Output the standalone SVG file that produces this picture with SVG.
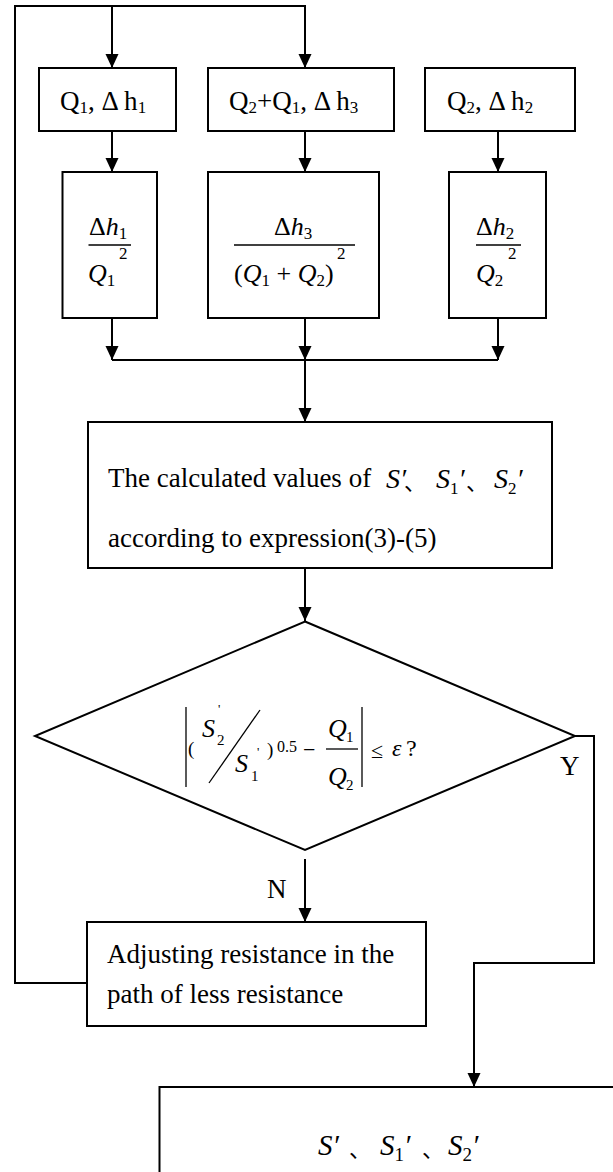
<svg xmlns="http://www.w3.org/2000/svg" width="613" height="1172" viewBox="0 0 613 1172">
<style>
.b{fill:#fff;stroke:#000;stroke-width:2}
.c{fill:none;stroke:#000;stroke-width:2}
.f{fill:none;stroke:#000;stroke-width:1.3}
.t{font-family:"Liberation Serif","Times New Roman","Noto Sans CJK SC",serif;font-size:27px;fill:#000}
.m{font-family:"Liberation Serif","Times New Roman",serif;font-size:26px;fill:#000}
.i{font-style:italic}
.s{font-size:17px}
.cjk{font-family:"Noto Sans CJK SC",sans-serif;font-style:normal}
</style>
<defs>
<marker id="ah" markerUnits="userSpaceOnUse" markerWidth="14" markerHeight="14" refX="14" refY="6.5" orient="auto">
<path d="M0,0 L14,6.5 L0,13 z" fill="#000"/>
</marker>
</defs>
<rect width="613" height="1172" fill="#fff"/>

<g id="connectors">
<path class="c" d="M87,983 H15 V6 H305 V68" marker-end="url(#ah)"/>
<path class="c" d="M112,6 V68" marker-end="url(#ah)"/>
<path class="c" d="M112,131 V172" marker-end="url(#ah)"/>
<path class="c" d="M305,131 V172" marker-end="url(#ah)"/>
<path class="c" d="M498,131 V172" marker-end="url(#ah)"/>
<path class="c" d="M112,318 V360" marker-end="url(#ah)"/>
<path class="c" d="M305,318 V360" marker-end="url(#ah)"/>
<path class="c" d="M498,318 V360" marker-end="url(#ah)"/>
<path class="c" d="M112,360 H498"/>
<path class="c" d="M305,360 V422" marker-end="url(#ah)"/>
<path class="c" d="M305,568 V621" marker-end="url(#ah)"/>
<path class="c" d="M305,859 V922" marker-end="url(#ah)"/>
<path class="c" d="M575,736 H594 V963 H474 V1087" marker-end="url(#ah)"/>
<text class="t" x="267" y="898">N</text>
<text class="t" x="560" y="775">Y</text>
</g>

<g id="n1">
<rect class="b" x="39" y="68" width="137" height="63"/>
<text class="t" x="60" y="110">Q<tspan class="s" dy="3">1</tspan><tspan dy="-3">, Δ h</tspan><tspan class="s" dy="3">1</tspan></text>
</g>
<g id="n2">
<rect class="b" x="208" y="68" width="186" height="63"/>
<text class="t" x="229" y="110">Q<tspan class="s" dy="3">2</tspan><tspan dy="-3">+Q</tspan><tspan class="s" dy="3">1</tspan><tspan dy="-3">, Δ h</tspan><tspan class="s" dy="3">3</tspan></text>
</g>
<g id="n3">
<rect class="b" x="425" y="68" width="150" height="63"/>
<text class="t" x="447" y="110">Q<tspan class="s" dy="3">2</tspan><tspan dy="-3">, Δ h</tspan><tspan class="s" dy="3">2</tspan></text>
</g>

<g id="n4">
<rect class="b" x="62.5" y="172" width="94.5" height="146"/>
<text class="m" x="89" y="235">Δ<tspan class="i">h</tspan><tspan class="s" dy="4">1</tspan></text>
<line class="f" x1="88.5" y1="245" x2="131" y2="245"/>
<text class="m" x="88" y="282"><tspan class="i">Q</tspan><tspan class="s" dy="4">1</tspan></text>
<text class="m s" x="119" y="259">2</text>
</g>
<g id="n5">
<rect class="b" x="208" y="172" width="171" height="146"/>
<text class="m" x="274" y="235">Δ<tspan class="i">h</tspan><tspan class="s" dy="4">3</tspan></text>
<line class="f" x1="234" y1="245" x2="355" y2="245"/>
<text class="m" x="234" y="282">(<tspan class="i">Q</tspan><tspan class="s" dy="4">1</tspan><tspan dy="-4"> + </tspan><tspan class="i">Q</tspan><tspan class="s" dy="4">2</tspan><tspan dy="-4">)</tspan></text>
<text class="m s" x="337" y="259">2</text>
</g>
<g id="n6">
<rect class="b" x="449" y="172" width="97" height="146"/>
<text class="m" x="476" y="235">Δ<tspan class="i">h</tspan><tspan class="s" dy="4">2</tspan></text>
<line class="f" x1="476" y1="245" x2="521" y2="245"/>
<text class="m" x="476" y="282"><tspan class="i">Q</tspan><tspan class="s" dy="4">2</tspan></text>
<text class="m s" x="508" y="259">2</text>
</g>

<g id="n7">
<rect class="b" x="88" y="422" width="464" height="146"/>
<text class="t" x="108" y="487">The calculated values of</text>
<text class="t" x="386" y="488" style="font-size:28px"><tspan class="i">S′</tspan><tspan class="cjk" x="404" dy="2" style="font-size:22px">、</tspan><tspan class="i" x="436" dy="-2">S</tspan><tspan class="s" dy="6">1</tspan><tspan class="i" dy="-6">′</tspan><tspan class="cjk" x="466" dy="2" style="font-size:22px">、</tspan><tspan class="i" x="494" dy="-2">S</tspan><tspan class="s" dy="6">2</tspan><tspan class="i" dy="-6">′</tspan></text>
<text class="t" x="108" y="547">according to expression(3)-(5)</text>
</g>

<g id="n8">
<polygon class="b" points="305,621.5 575,736 305,850 35,736"/>
<line class="f" x1="186" y1="707" x2="186" y2="787"/>
<line class="f" x1="362" y1="707" x2="362" y2="787"/>
<text class="m" x="188" y="755" style="font-size:19px">(</text>
<text class="m i" x="202" y="737" style="font-size:26px">S</text>
<text class="m s" x="217" y="745" style="font-size:15px">2</text>
<text class="m" x="218" y="713" style="font-size:13px">'</text>
<line class="f" x1="260" y1="710" x2="209" y2="783"/>
<text class="m i" x="235" y="772" style="font-size:26px">S</text>
<text class="m s" x="251" y="781" style="font-size:15px">1</text>
<text class="m" x="257" y="756" style="font-size:13px">'</text>
<text class="m" x="267" y="756" style="font-size:19px">)</text>
<text class="m" x="277" y="752" style="font-size:16px">0.5</text>
<text class="m" x="303" y="757" style="font-size:22px">−</text>
<text class="m i" x="328" y="737" style="font-size:26px">Q</text>
<text class="m s" x="346" y="742" style="font-size:15px">1</text>
<line class="f" x1="326" y1="749" x2="358" y2="749"/>
<text class="m i" x="328" y="785" style="font-size:26px">Q</text>
<text class="m s" x="346" y="790" style="font-size:15px">2</text>
<text class="m" x="371" y="758" style="font-size:22px">≤</text>
<text class="m i" x="392" y="756" style="font-size:24px">ε</text>
<text class="m" x="406" y="756" style="font-size:24px">?</text>
</g>

<g id="n9">
<rect class="b" x="87" y="922" width="339" height="104"/>
<text class="t" x="107" y="963">Adjusting resistance in the</text>
<text class="t" x="107" y="1003">path of less resistance</text>
</g>

<g id="n10">
<rect class="b" x="159.5" y="1087" width="470" height="200"/>
<text class="t" x="318" y="1155" style="font-size:29px"><tspan class="i">S′</tspan><tspan class="cjk" x="349" dy="2" style="font-size:22px">、</tspan><tspan class="i" x="380" dy="-2">S</tspan><tspan dy="6" style="font-size:19px">1</tspan><tspan class="i" dy="-6">′</tspan><tspan class="cjk" x="422" dy="2" style="font-size:22px">、</tspan><tspan class="i" x="448" dy="-2">S</tspan><tspan dy="6" style="font-size:19px">2</tspan><tspan class="i" dy="-6">′</tspan></text>
</g>
</svg>
